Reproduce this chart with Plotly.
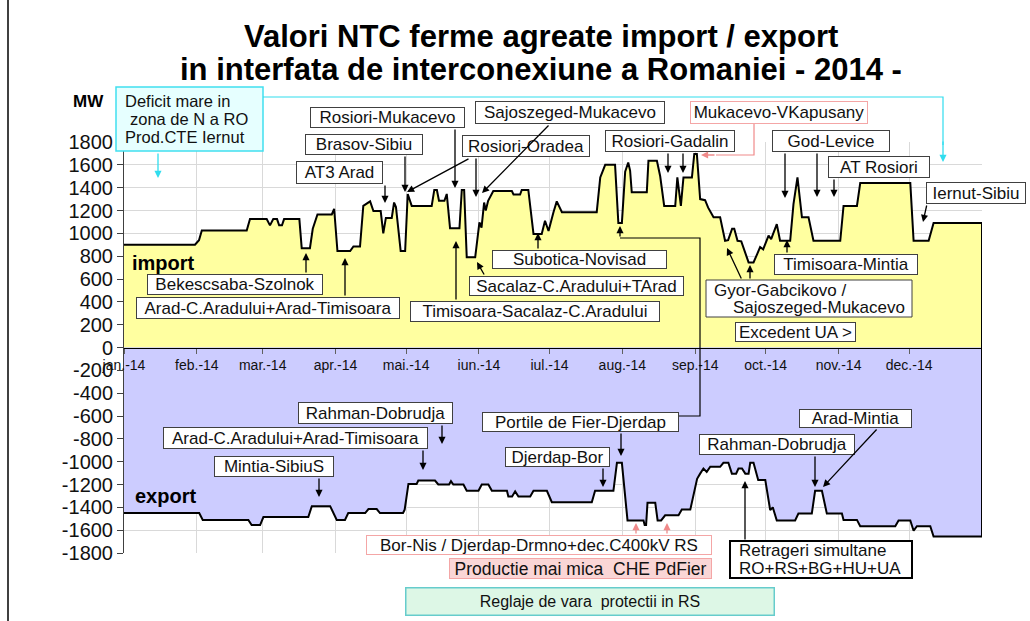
import plotly.graph_objects as go
import pandas as pd

# ---------------- data ----------------
base = pd.Timestamp("2014-01-01")

import_day = [0, 30.2, 31.9, 33.1, 52.2, 53.6, 60.7, 62.1, 63.5, 65.1, 66.0, 67.2, 68.1, 74.6, 75.6,
              79.1, 80.3, 82.3, 88.4, 89.4, 90.8, 96.2, 97.6, 100.4, 101.8, 104.7, 106.1, 109.2,
              110.3, 111.4, 113.9, 114.9, 115.7, 117.7, 119.6, 120.7, 122.4, 130.9, 132.0, 133.1,
              134.0, 136.3, 137.3, 138.7, 142.7, 143.7, 144.7, 145.8, 149.4, 151.2, 152.1, 153.2,
              153.9, 154.9, 157.1, 165.0, 165.7, 168.5, 169.2, 172.0, 174.2, 177.7, 179.1, 180.6,
              182.7, 184.1, 186.3, 201.1, 202.6, 204.7, 208.9, 210.3, 211.8, 213.2, 214.5, 215.3,
              216.0, 222.4, 223.1, 226.7, 228.1, 229.8, 234.5, 235.4, 236.9, 238.0, 241.6, 242.6,
              243.7, 245.1, 247.2, 248.5, 250.8, 253.6, 255.7, 257.0, 258.7, 259.6, 261.0, 262.6,
              265.7, 267.8, 269.4, 270.6, 271.9, 274.2, 275.3, 277.7, 279.1, 283.4, 284.8, 286.5,
              288.4, 291.2, 293.3, 304.7, 306.1, 311.8, 313.2, 334.5, 335.9, 342.3, 344.4, 365.0]
import_mw = [900, 900, 940, 1025, 1025, 1125, 1125, 1070, 1125, 1125, 1070, 1070, 1125, 1125, 870,
             870, 1040, 1165, 1165, 1215, 845, 845, 885, 885, 1240, 1280, 1195, 1195,
             1000, 1135, 1135, 1270, 1230, 845, 845, 1345, 1240, 1240, 1380, 1380,
             1285, 1285, 1345, 1045, 1045, 1380, 1380, 790, 790, 1095, 1050, 1270,
             1200, 1285, 1370, 1370, 1340, 1340, 1380, 1380, 995, 995, 1110, 1020,
             1185, 1280, 1185, 1185, 1490, 1600, 1600, 1090, 1090, 1540, 1620, 1550,
             1360, 1360, 1635, 1635, 1500, 1240, 1240, 1490, 1240, 1490, 1490, 1695,
             1695, 1300, 1290, 1225, 1140, 1140, 935, 940, 1040, 1040, 935, 930,
             745, 745, 820, 880, 860, 980, 950, 1080, 935, 935, 1255, 1490,
             1140, 1140, 935, 935, 1240, 1240, 1440, 1440, 935, 935, 1090, 1090]

export_day = [0, 32.0, 33.5, 52.9, 54.3, 57.9, 59.3, 78.4, 79.9, 87.7, 90.5, 94.0, 95.4, 102.6, 104.0,
              107.5, 108.9, 118.7, 119.4, 121.0, 124.5, 125.2, 132.3, 133.7, 138.3, 139.1, 140.1,
              144.4, 145.8, 150.8, 152.2, 155.0, 156.5, 162.9, 163.5, 165.1, 166.4, 167.8, 172.8,
              174.2, 179.9, 182.0, 199.0, 200.4, 208.2, 209.7, 211.8, 214.2, 221.0, 221.5, 222.1,
              222.7, 226.0, 227.0, 228.5, 230.2, 235.9, 237.3, 240.9, 243.8, 245.1, 246.5, 247.9,
              249.4, 253.6, 255.0, 257.1, 258.6, 260.4, 261.4, 262.9, 264.3, 265.7, 266.4, 267.8,
              269.8, 272.8, 274.9, 276.0, 277.7, 285.5, 286.9, 292.6, 294.0, 296.9, 299.0, 305.4,
              306.1, 311.8, 313.2, 328.1, 329.5, 334.5, 335.9, 337.3, 343.0, 344.4, 365.0]
export_mw = [-1450, -1450, -1510, -1510, -1555, -1555, -1485, -1485, -1390, -1390, -1510, -1510, -1450,
             -1450, -1415, -1415, -1450, -1450, -1420, -1195, -1195, -1165, -1165, -1200, -1200,
             -1170, -1200, -1200, -1255, -1255, -1200, -1200, -1255, -1255, -1305, -1305, -1260,
             -1305, -1305, -1255, -1255, -1355, -1355, -1255, -1255, -1010, -1010, -1515, -1515,
             -1555, -1555, -1360, -1360, -1515, -1515, -1470, -1470, -1420, -1420, -1150, -1105,
             -1060, -1090, -1045, -1045, -1010, -1010, -1105, -1105, -1060, -1060, -1105, -1105,
             -1010, -1010, -1160, -1160, -1425, -1400, -1515, -1515, -1455, -1455, -1255, -1255,
             -1455, -1455, -1510, -1510, -1565, -1565, -1515, -1515, -1605, -1565, -1565, -1655,
             -1655]

month_starts = pd.date_range("2014-01-01", "2014-12-01", freq="MS")
month_labels = ["jan.-14", "feb.-14", "mar.-14", "apr.-14", "mai.-14", "iun.-14",
                "iul.-14", "aug.-14", "sep.-14", "oct.-14", "nov.-14", "dec.-14"]
y_ticks = list(range(-1800, 1801, 200))

import_x = base + pd.to_timedelta(import_day, unit="D")
export_x = base + pd.to_timedelta(export_day, unit="D")

# ---------------- layout helpers ----------------
W, H = 1030, 621
L, R, T, B = 124, 982, 142, 553
FONT = "Arial, Liberation Sans, sans-serif"


def px(x):
    return (x - L) / (R - L)


def py(y):
    return (B - y) / (B - T)


fig = go.Figure()
fig.add_trace(go.Scatter(x=import_x, y=import_mw, mode="lines", fill="tozeroy",
                         fillcolor="rgb(255,255,160)", line=dict(color="black", width=2),
                         hoverinfo="skip", showlegend=False))
fig.add_trace(go.Scatter(x=export_x, y=export_mw, mode="lines", fill="tozeroy",
                         fillcolor="rgb(204,204,255)", line=dict(color="black", width=2),
                         hoverinfo="skip", showlegend=False))

annotations = []
shapes = []


def text_at(txt, x, y, size, anchor="center", bold=False, color="#111111"):
    annotations.append(dict(text=f"<b>{txt}</b>" if bold else txt, x=px(x), y=py(y),
                            xref="paper", yref="paper", showarrow=False, xanchor=anchor,
                            yanchor="middle", font=dict(family=FONT, size=size, color=color)))


# titles and labels
text_at("Valori NTC ferme agreate import / export", 541, 37, 31, bold=True, color="black")
text_at("in interfata de interconexiune a Romaniei - 2014 -", 541, 69, 31, bold=True, color="black")
text_at("MW", 88, 102, 17, bold=True, color="black")
text_at("import", 163, 263, 20, bold=True, color="black")
text_at("export", 165, 496, 20, bold=True, color="black")

styles = {
    "plain": dict(bg="white", bc="#404040", bw=1, fs=17),
    "dark": dict(bg="white", bc="black", bw=2, fs=17),
    "pinkline": dict(bg="white", bc="#F4A6A6", bw=1, fs=17),
    "pinkfill": dict(bg="#FAD6D6", bc="#F4A6A6", bw=1, fs=17.5),
    "green": dict(bg="#DDF7E6", bc="#66CCCC", bw=1.5, fs=16),
    "cyan": dict(bg="#E6FFFF", bc="#40E0F0", bw=1.5, fs=16.5),
}

# single-line boxes
boxes = [
    (310, 107, 465, 128, "Rosiori-Mukacevo", "plain"),
    (305, 134, 423, 155, "Brasov-Sibiu", "plain"),
    (296, 161, 383, 184, "AT3 Arad", "plain"),
    (475, 101, 665, 124, "Sajoszeged-Mukacevo", "plain"),
    (462, 135, 590, 157, "Rosiori-Oradea", "plain"),
    (605, 130, 735, 152, "Rosiori-Gadalin", "plain"),
    (690, 101, 868, 124, "Mukacevo-VKapusany", "pinkline"),
    (772, 130, 890, 152, "God-Levice", "plain"),
    (828, 156, 930, 178, "AT Rosiori", "plain"),
    (926, 182, 1026, 204, "Iernut-Sibiu", "plain"),
    (147, 274, 323, 295, "Bekescsaba-Szolnok", "plain"),
    (136, 297, 400, 319, "Arad-C.Aradului+Arad-Timisoara", "plain"),
    (410, 301, 660, 322, "Timisoara-Sacalaz-C.Aradului", "plain"),
    (492, 250, 667, 269, "Subotica-Novisad", "plain"),
    (469, 276, 684, 296, "Sacalaz-C.Aradului+TArad", "plain"),
    (774, 254, 918, 275, "Timisoara-Mintia", "plain"),
    (735, 322, 856, 342, "Excedent UA &gt;", "plain"),
    (298, 402, 453, 424, "Rahman-Dobrudja", "plain"),
    (163, 427, 428, 449, "Arad-C.Aradului+Arad-Timisoara", "plain"),
    (214, 456, 334, 477, "Mintia-SibiuS", "plain"),
    (505, 447, 610, 467, "Djerdap-Bor", "plain"),
    (482, 412, 679, 432, "Portile de Fier-Djerdap", "plain"),
    (699, 434, 855, 455, "Rahman-Dobrudja", "plain"),
    (799, 409, 912, 428, "Arad-Mintia", "plain"),
    (366, 535, 712, 555, "Bor-Nis / Djerdap-Drmno+dec.C400kV RS", "pinkline"),
    (449, 558, 712, 579, "Productie mai mica&nbsp; CHE PdFier", "pinkfill"),
    (405, 587, 775, 616, "Reglaje de vara&nbsp; protectii in RS", "green"),
]

for x0, y0, x1, y1, txt, kind in boxes:
    s = styles[kind]
    annotations.append(dict(
        text=txt, x=px((x0 + x1) / 2), y=py((y0 + y1) / 2), xref="paper", yref="paper",
        xanchor="center", yanchor="middle", showarrow=False,
        width=x1 - x0 - 2 * s["bw"], height=y1 - y0 - 2 * s["bw"],
        align="center", valign="middle", bgcolor=s["bg"], bordercolor=s["bc"],
        borderwidth=s["bw"], borderpad=0,
        font=dict(family=FONT, size=s["fs"], color="#111111")))

# multi-line boxes: frame as a shape, each line as its own text
multi = [
    ((116, 87, 263, 151), "cyan", [("Deficit mare in", 123, 101), ("zona de N a RO", 128, 119),
                                   ("Prod.CTE Iernut", 123, 137)]),
    ((706, 280, 912, 317), "plain", [("Gyor-Gabcikovo /", 712, 290), ("Sajoszeged-Mukacevo", 731, 307)]),
    ((730, 541, 912, 578), "dark", [("Retrageri simultane", 737, 550), ("RO+RS+BG+HU+UA", 737, 568)]),
]
for (x0, y0, x1, y1), kind, lines in multi:
    s = styles[kind]
    shapes.append(dict(type="rect", xref="paper", yref="paper", x0=px(x0), x1=px(x1), y0=py(y1), y1=py(y0),
                       fillcolor=s["bg"], line=dict(color=s["bc"], width=s["bw"]), layer="above"))
    for txt, lx, ly in lines:
        text_at(txt, lx, ly, s["fs"], anchor="left")

PINK = "#F08A8A"
CYAN = "#30DDEE"
arrows = [
    (455, 128, 455, 188, "black"),
    (405, 155, 405, 192, "black"),
    (470, 158, 407, 192, "black"),
    (476, 157, 476, 197, "black"),
    (385, 184, 385, 203, "black"),
    (550, 124, 482, 193, "black"),
    (668, 152, 668, 173, "black"),
    (683, 152, 683, 173, "black"),
    (785, 152, 785, 198, "black"),
    (817, 152, 817, 197, "black"),
    (834, 178, 834, 197, "black"),
    (927, 204, 923, 222, "black"),
    (158, 152, 158, 178, CYAN),
    (943, 140, 943, 162, CYAN),
    (716, 155, 701, 155, PINK),
    (306, 274, 306, 253, "black"),
    (345, 297, 345, 258, "black"),
    (456, 301, 456, 241, "black"),
    (538, 250, 538, 233, "black"),
    (485, 276, 477, 262, "black"),
    (620, 238, 620, 226, "black"),
    (742, 280, 727, 248, "black"),
    (750, 280, 750, 265, "black"),
    (787, 254, 787, 240, "black"),
    (442, 424, 442, 444, "black"),
    (423, 449, 423, 470, "black"),
    (319, 477, 319, 497, "black"),
    (603, 467, 603, 487, "black"),
    (621, 432, 621, 456, "black"),
    (815, 455, 815, 487, "black"),
    (878, 428, 823, 487, "black"),
    (745, 541, 745, 481, "black"),
    (636, 535, 636, 523, PINK),
    (667, 535, 667, 523, PINK),
]
for tx, ty, hx, hy, col in arrows:
    annotations.append(dict(
        text="", x=px(hx), y=py(hy), xref="paper", yref="paper", ax=tx - hx, ay=ty - hy,
        showarrow=True, arrowhead=2, arrowsize=1.1, arrowwidth=1.3, arrowcolor=col,
        standoff=0, startstandoff=0))


def path(points):
    return "M " + " L ".join(f"{px(a):.5f},{py(b):.5f}" for a, b in points)


for pts, col in [
    ([(263, 97), (943, 97), (943, 145)], CYAN),
    ([(754, 124), (754, 155), (716, 155)], PINK),
    ([(679, 416), (700, 416), (700, 238), (620, 238)], "black"),
]:
    shapes.append(dict(type="path", path=path(pts), xref="paper", yref="paper",
                       line=dict(color=col, width=1.2)))

# right edge of the filled areas
shapes.append(dict(type="line", xref="x", yref="y", x0=import_x[-1], x1=import_x[-1],
                   y0=export_mw[-1], y1=import_mw[-1], line=dict(color="black", width=2)))
# outer frame line on the left
shapes.append(dict(type="line", xref="paper", yref="paper", x0=px(8), x1=px(8), y0=py(0), y1=py(621),
                   line=dict(color="black", width=1.5)))

fig.update_layout(
    width=W, height=H,
    margin=dict(l=L, r=W - R, t=T, b=H - B, pad=0),
    paper_bgcolor="white", plot_bgcolor="white",
    font=dict(family=FONT, color="black"),
    annotations=annotations, shapes=shapes,
    xaxis=dict(type="date", range=[base, base + pd.Timedelta(days=365)],
               tickvals=month_starts, ticktext=month_labels,
               anchor="free", position=0.5, showline=True, linecolor="black", linewidth=1,
               ticks="outside", ticklen=5, tickcolor="#606060",
               tickfont=dict(family=FONT, size=14, color="#111111"),
               showgrid=True, gridcolor="#D9D9D9", gridwidth=1, zeroline=False),
    yaxis=dict(range=[-1800, 1800], tickvals=y_ticks, ticktext=[str(v) for v in y_ticks],
               showline=True, linecolor="#404040", linewidth=1, ticks="outside", ticklen=6,
               tickcolor="#404040", tickfont=dict(family=FONT, size=20, color="#111111"),
               showgrid=True, gridcolor="#D9D9D9", gridwidth=1, zeroline=False),
)

fig.write_html("out.html", config={"displayModeBar": False},
               post_script="document.body.style.margin='0px';")
